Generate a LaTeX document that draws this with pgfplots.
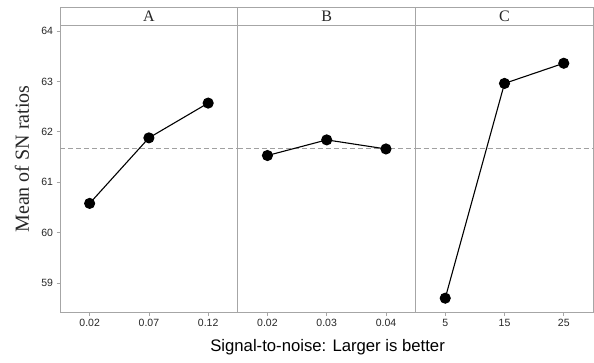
\documentclass[border=0pt]{standalone}
\usepackage{fontspec}
\setmainfont{Liberation Serif}
\setsansfont{Liberation Sans}
\usepackage{pgfplots}
\pgfplotsset{compat=1.18}
\definecolor{framegray}{HTML}{A6A6A6}
\definecolor{meangray}{HTML}{A0A0A0}
\definecolor{ticktext}{HTML}{262626}
\pgfplotsset{
  panel/.style={
    scale only axis, width=177.8pt, height=286.6pt,
    xmin=0.5, xmax=3.5, ymin=58.42, ymax=64.105,
    axis line style={framegray, line width=0.8pt},
    xtick={1,2,3},
    xtick pos=bottom, ytick pos=left,
    tick align=outside,
    major tick length=3.5pt,
    every tick/.style={framegray, line width=0.7pt},
    tick label style={font=\sffamily\fontsize{10.5}{12}\selectfont, text=ticktext},
    /pgf/number format/assume math mode=true,
    clip=false,
    anchor=south west,
  },
  meanline/.style={meangray, dash pattern=on 5pt off 3pt, line width=0.8pt, forget plot},
  series/.style={black, line width=1.1pt, mark=*, mark size=5pt, mark options={solid, fill=black}},
}
\newcommand{\strip}[1]{%
  \draw[framegray, line width=0.8pt] (rel axis cs:0,1) rectangle ([yshift=18.4pt]rel axis cs:1,1);
  \node[font=\fontsize{16}{18}\selectfont, text=ticktext] at ([yshift=9.2pt]rel axis cs:0.5,1) {#1};
}
\begin{document}
\begin{tikzpicture}
\useasboundingbox (0,0) rectangle (594pt,362pt);
% Panel A
\begin{axis}[panel, at={(60pt,49.7pt)},
  xticklabels={0.02,0.07,0.12},
  ytick={59,60,61,62,63,64},
  ylabel={Mean of SN ratios},
  ylabel style={at={(axis description cs:-0.2137,0.535)}, anchor=center, font=\fontsize{20}{24}\selectfont, text=ticktext},
]
\addplot[meanline] coordinates {(0.5,61.67) (3.5,61.67)};
\addplot[series] coordinates {(1,60.58) (2,61.88) (3,62.57)};
\strip{A}
\end{axis}
% Panel B
\begin{axis}[panel, at={(237.8pt,49.7pt)},
  xticklabels={0.02,0.03,0.04},
  ytick=\empty,
  xlabel={Signal-to-noise: Larger is better},
  xlabel style={at={(axis description cs:0.505,-0.1385)}, anchor=base, font=\sffamily\fontsize{16.7}{20}\selectfont, text=black},
]
\addplot[meanline] coordinates {(0.5,61.67) (3.5,61.67)};
\addplot[series] coordinates {(1,61.53) (2,61.84) (3,61.66)};
\strip{B}
\end{axis}
% Panel C
\begin{axis}[panel, at={(415.6pt,49.7pt)},
  xticklabels={5,15,25},
  ytick=\empty,
]
\addplot[meanline] coordinates {(0.5,61.67) (3.5,61.67)};
\addplot[series] coordinates {(1,58.70) (2,62.96) (3,63.36)};
\strip{C}
\end{axis}
\end{tikzpicture}
\end{document}
